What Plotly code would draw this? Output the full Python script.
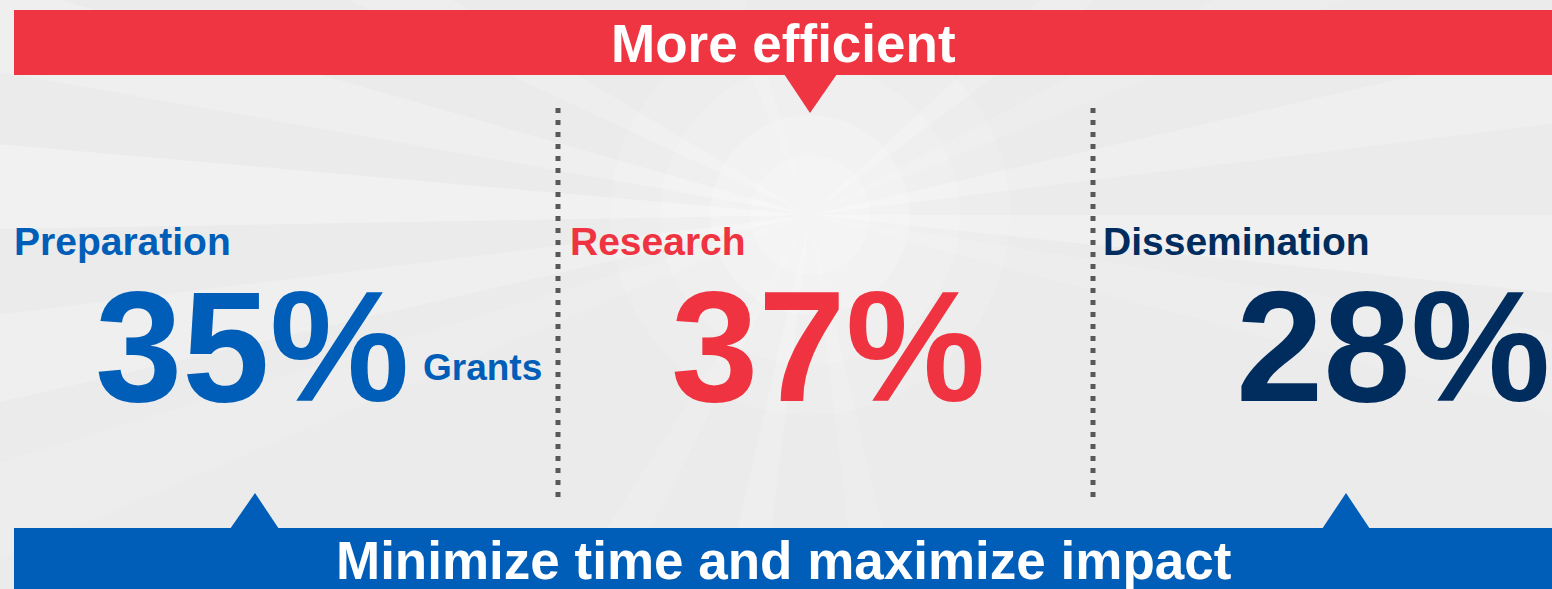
import math
import plotly.graph_objects as go

# ---- data ----
stages = ["Preparation", "Research", "Dissemination"]
shares = [35, 37, 28]
stage_colors = ["#005EB8", "#EF3340", "#002D5E"]
stage_notes = ["Grants", "", ""]
top_banner_text = "More efficient"
bottom_banner_text = "Minimize time and maximize impact"

RED = "#EF3442"
BLUE = "#005EB8"
W, H = 1552, 589
FONT = "Liberation Sans, Arial, sans-serif"

fig = go.Figure()
# invisible trace to establish axes
fig.add_trace(go.Scatter(x=[0, W], y=[0, H], mode="markers", marker=dict(opacity=0),
                         hoverinfo="skip", showlegend=False))

shapes = []
# soft background light streaks radiating from centre
cx, cy = 810, 215
rays = [(-40, 0.18), (-25, 0.14), (-10, 0.2), (3, 0.25), (12, 0.14), (170, 0.22), (182, 0.3),
        (193, 0.2), (208, 0.18), (160, 0.14), (100, 0.16), (250, 0.12), (80, 0.14), (120, 0.12)]
for ang, op in rays:
    a = math.radians(ang)
    spread = math.radians(3.0)
    L = 1400
    x1 = cx + L * math.cos(a - spread); y1 = cy + L * math.sin(a - spread)
    x2 = cx + L * math.cos(a + spread); y2 = cy + L * math.sin(a + spread)
    shapes.append(dict(type="path", xref="x", yref="y", layer="below",
                       path=f"M {cx},{cy} L {x1:.1f},{y1:.1f} L {x2:.1f},{y2:.1f} Z",
                       fillcolor="white", opacity=op, line=dict(width=0)))
for r, op in [(200, 0.12), (150, 0.15), (100, 0.18), (60, 0.2)]:
    shapes.append(dict(type="circle", xref="x", yref="y", layer="below",
                       x0=cx - r, x1=cx + r, y0=cy - r, y1=cy + r,
                       fillcolor="white", opacity=op, line=dict(width=0)))

# top red banner + pointer
shapes.append(dict(type="rect", xref="x", yref="y", x0=14, x1=W + 5, y0=10, y1=75,
                   fillcolor=RED, line=dict(width=0)))
shapes.append(dict(type="path", xref="x", yref="y", path="M 784,74 L 837,74 L 810,113 Z",
                   fillcolor=RED, line=dict(width=0)))
# bottom blue banner + pointers
shapes.append(dict(type="rect", xref="x", yref="y", x0=14, x1=W + 5, y0=528, y1=H + 5,
                   fillcolor=BLUE, line=dict(width=0)))
shapes.append(dict(type="path", xref="x", yref="y", path="M 230,529 L 279,529 L 255,493 Z",
                   fillcolor=BLUE, line=dict(width=0)))
shapes.append(dict(type="path", xref="x", yref="y", path="M 1322,529 L 1370,529 L 1346,493 Z",
                   fillcolor=BLUE, line=dict(width=0)))
# dotted separators
for xv in [558, 1093]:
    shapes.append(dict(type="line", xref="x", yref="y", x0=xv, x1=xv, y0=108, y1=498,
                       line=dict(color="#585858", width=5, dash="5px,7px")))

annotations = []
annotations.append(dict(x=783, y=43, xref="x", yref="y", text=top_banner_text, showarrow=False,
                        font=dict(family=FONT, size=53, color="white", weight="bold"),
                        xanchor="center", yanchor="middle"))
annotations.append(dict(x=783, y=560, xref="x", yref="y", text=bottom_banner_text, showarrow=False,
                        font=dict(family=FONT, size=53, color="white", weight="bold"),
                        xanchor="center", yanchor="middle"))

label_x = [12, 568, 1101]
number_x = [252, 828, 1393]
for i, (name, val, col, note) in enumerate(zip(stages, shares, stage_colors, stage_notes)):
    annotations.append(dict(x=label_x[i], y=241, xref="x", yref="y", text=name, showarrow=False,
                            font=dict(family=FONT, size=39, color=col, weight="bold"),
                            xanchor="left", yanchor="middle"))
    annotations.append(dict(x=number_x[i], y=346, xref="x", yref="y", text=f"{val}%", showarrow=False,
                            font=dict(family=FONT, size=157, color=col, weight="bold"),
                            xanchor="center", yanchor="middle"))
    if note:
        annotations.append(dict(x=421, y=367, xref="x", yref="y", text=note, showarrow=False,
                                font=dict(family=FONT, size=37, color=col, weight="bold"),
                                xanchor="left", yanchor="middle"))

fig.update_layout(
    width=W, height=H, margin=dict(l=0, r=0, t=0, b=0),
    paper_bgcolor="#EBEBEB", plot_bgcolor="#EBEBEB",
    xaxis=dict(range=[0, W], visible=False, fixedrange=True),
    yaxis=dict(range=[H, 0], visible=False, fixedrange=True),
    shapes=shapes, annotations=annotations, showlegend=False,
)
fig.write_html("out.html", config={"displayModeBar": False},
               post_script="document.body.style.margin='0px';document.body.style.overflow='hidden';")
